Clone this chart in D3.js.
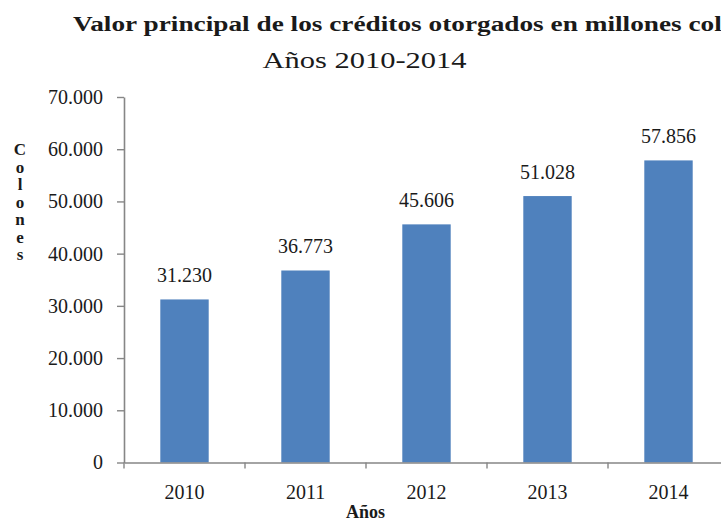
<!DOCTYPE html>
<html>
<head>
<meta charset="utf-8">
<script src="https://cdn.jsdelivr.net/npm/d3@7"></script>
<style>
  html, body { margin: 0; padding: 0; background: #ffffff; overflow: hidden; }
  svg { display: block; }
  svg text { font-family: "Liberation Serif", "Tinos", "Times New Roman", "DejaVu Serif", serif; fill: #1a1a1a; }
</style>
</head>
<body>
<svg id="chart" width="721" height="523"></svg>
<script>
// Data
const years = ["2010", "2011", "2012", "2013", "2014"];
const creditValues = [31230, 36773, 45606, 51028, 57856];
const yTicks = [0, 10000, 20000, 30000, 40000, 50000, 60000, 70000];
const titleText = "Valor principal de los créditos otorgados en millones colones";
const subtitleText = "Años 2010-2014";
const yAxisTitle = "Colones";
const xAxisTitle = "Años";

const serif = "'Liberation Serif', 'Tinos', 'Times New Roman', 'DejaVu Serif', serif";
const plot = { left: 124, right: 729, top: 97, bottom: 462.5 };
const axisColor = "#868686";
const barColor = "#4f81bd";

const locale = d3.formatLocale({ decimal: ",", thousands: ".", grouping: [3], currency: ["", ""] });
const fmt = locale.format(",d");

const svg = d3.select("#chart");

const x = d3.scaleBand()
  .domain(years)
  .range([plot.left, plot.right])
  .paddingInner(0.6)
  .paddingOuter(0.3);

const y = d3.scaleLinear()
  .domain([0, 70000])
  .range([plot.bottom, plot.top]);

// Title and subtitle
svg.append("text")
  .attr("transform", "translate(73,31) scale(1.3,1)")
  .style("font-family", serif)
  .attr("font-size", 21)
  .attr("font-weight", "bold")
  .text(titleText);

svg.append("text")
  .attr("transform", "translate(364.5,68) scale(1.27,1)")
  .style("font-family", serif)
  .attr("text-anchor", "middle")
  .attr("font-size", 24)
  .text(subtitleText);

const data = years.map((yr, i) => ({ yr, v: creditValues[i] }));

// Bars
svg.append("g").selectAll("rect")
  .data(data)
  .join("rect")
  .attr("x", d => x(d.yr))
  .attr("width", x.bandwidth())
  .attr("y", d => y(d.v))
  .attr("height", d => y(0) - y(d.v))
  .attr("fill", barColor);

// Value labels
svg.append("g").selectAll("text")
  .data(data)
  .join("text")
  .style("font-family", serif)
  .attr("x", d => x(d.yr) + x.bandwidth() / 2)
  .attr("y", d => y(d.v) - 17)
  .attr("text-anchor", "middle")
  .attr("font-size", 20)
  .text(d => fmt(d.v));

// Y axis
const yAxis = svg.append("g")
  .attr("transform", `translate(${plot.left},0)`)
  .call(d3.axisLeft(y).tickValues(yTicks).tickFormat(fmt).tickSize(7).tickPadding(14).tickSizeOuter(0));
yAxis.attr("font-family", null);
yAxis.select(".domain").attr("stroke", axisColor).attr("stroke-width", 1.6);
yAxis.selectAll(".tick line").attr("stroke", axisColor).attr("stroke-width", 1.4);
yAxis.selectAll(".tick text")
  .style("font-family", serif)
  .attr("font-size", 20)
  .attr("fill", "#1a1a1a");

// X axis: labels centred on bands, tick marks on category boundaries
const xAxis = svg.append("g")
  .attr("transform", `translate(0,${plot.bottom})`)
  .call(d3.axisBottom(x).tickSize(0).tickPadding(22).tickSizeOuter(0));
xAxis.attr("font-family", null);
xAxis.select(".domain").attr("stroke", axisColor).attr("stroke-width", 1.6);
xAxis.selectAll(".tick text")
  .style("font-family", serif)
  .attr("font-size", 20)
  .attr("fill", "#1a1a1a");

const boundaries = years.map((yr, i) => i === 0 ? plot.left : x(yr) - x.step() * x.paddingInner() / 2);
boundaries.push(plot.right);
xAxis.selectAll("line.boundary")
  .data(boundaries)
  .join("line")
  .attr("class", "boundary")
  .attr("x1", d => d).attr("x2", d => d)
  .attr("y1", 0).attr("y2", 6)
  .attr("stroke", axisColor)
  .attr("stroke-width", 1.4);

// Axis titles
svg.append("text")
  .style("font-family", serif)
  .attr("x", 365.5)
  .attr("y", 518)
  .attr("text-anchor", "middle")
  .attr("font-size", 18)
  .attr("font-weight", "bold")
  .text(xAxisTitle);

svg.append("g").selectAll("text")
  .data(yAxisTitle.split(""))
  .join("text")
  .style("font-family", serif)
  .attr("x", 20)
  .attr("y", (d, i) => 155 + i * 17.5)
  .attr("text-anchor", "middle")
  .attr("font-size", 17)
  .attr("font-weight", "bold")
  .text(d => d);
</script>
</body>
</html>
